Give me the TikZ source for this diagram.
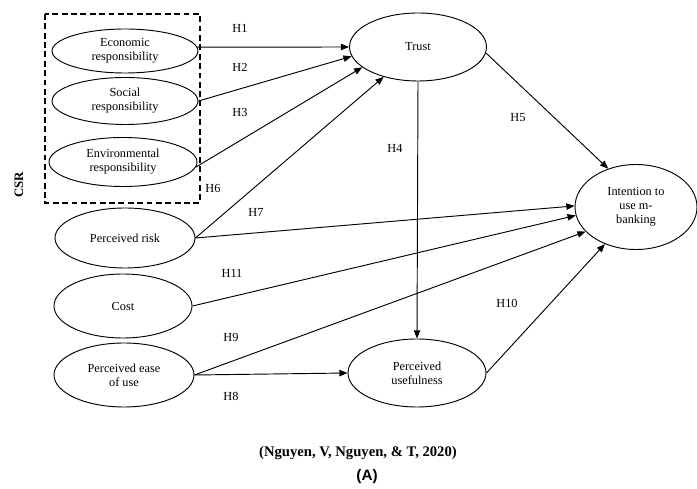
\documentclass[tikz,border=0pt]{standalone}
\usepackage{fontspec}
\setmainfont{Liberation Serif}
\setsansfont{Liberation Sans}
\usetikzlibrary{arrows.meta,shapes.geometric}
\begin{document}
\begin{tikzpicture}[x=0.03cm,y=-0.03cm,
		font=\fontsize{10.5}{12}\selectfont,
		construct/.style={draw,ellipse,line width=0.8pt,inner sep=0pt,align=center},
		hpath/.style={line width=0.8pt,-{Triangle[length=7pt,width=5.5pt]}},
		hyp/.style={inner sep=1pt}]
	\useasboundingbox (0,0) rectangle (697,489);
	% CSR group
	\draw[line width=0.9pt,dash pattern=on 5pt off 3pt] (45,14) rectangle (200,203);
	\node[font=\fontsize{11}{12}\selectfont\bfseries,rotate=90] (csr) at (19,185) {CSR};
	\node[construct,minimum width=146*0.03cm,minimum height=44*0.03cm] (econ) at (125,51) {Economic\\responsibility};
	\node[construct,minimum width=146*0.03cm,minimum height=47*0.03cm] (social) at (125,101) {Social\\responsibility};
	\node[construct,minimum width=148*0.03cm,minimum height=49*0.03cm] (env) at (123,162) {Environmental\\responsibility};
	% other antecedents
	\node[construct,minimum width=140*0.03cm,minimum height=60*0.03cm] (risk) at (125,238) {Perceived risk};
	\node[construct,minimum width=138*0.03cm,minimum height=64*0.03cm] (cost) at (123,306) {Cost};
	\node[construct,minimum width=140*0.03cm,minimum height=64*0.03cm] (ease) at (124,375) {Perceived ease\\of use};
	% mediators and outcome
	\node[construct,minimum width=137*0.03cm,minimum height=68*0.03cm] (trust) at (418,47) {Trust};
	\node[construct,minimum width=138*0.03cm,minimum height=68*0.03cm] (useful) at (417,373) {Perceived\\usefulness};
	\node[construct,minimum width=122*0.03cm,minimum height=85*0.03cm] (intent) at (636,207) {Intention to\\use m-\\banking};
	% paths
	\draw[hpath] (econ.3) -- (trust.west);
	\draw[hpath] (social.east) -- (trust.188);
	\draw[hpath] (env.356) -- (trust.200);
	\draw[hpath] (risk.east) -- (trust.221);
	\draw[hpath] (trust.south) -- (useful.north);
	\draw[hpath] (trust.355) -- (intent.126);
	\draw[hpath] (risk.east) -- (intent.179);
	\draw[hpath] (cost.east) -- (intent.188);
	\draw[hpath] (ease.east) -- (intent.206);
	\draw[hpath] (ease.east) -- (useful.west);
	\draw[hpath] (useful.east) -- (intent.230);
	% hypothesis labels
	\node[hyp] (h1) at (240,28) {H1};
	\node[hyp] (h2) at (240,67) {H2};
	\node[hyp] (h3) at (240,112) {H3};
	\node[hyp] (h4) at (395,148) {H4};
	\node[hyp] (h5) at (518,118) {H5};
	\node[hyp] (h6) at (213,188) {H6};
	\node[hyp] (h7) at (256,212) {H7};
	\node[hyp] (h8) at (231,396) {H8};
	\node[hyp] (h9) at (231,337) {H9};
	\node[hyp] (h10) at (507,303) {H10};
	\node[hyp] (h11) at (232,273) {H11};
	% source
	\node[font=\fontsize{12.5}{14}\selectfont\bfseries] (src) at (358,453) {(Nguyen, V, Nguyen, \& T, 2020)};
	\node[font=\fontsize{13}{15}\sffamily\bfseries] (tag) at (367,477) {(A)};
\end{tikzpicture}
\end{document}
